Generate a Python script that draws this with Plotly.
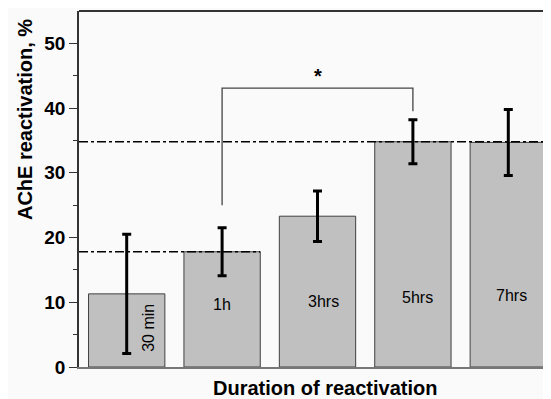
import plotly.graph_objects as go

# Data
durations = ["30 min", "1h", "3hrs", "5hrs", "7hrs"]
reactivation = [11.3, 17.8, 23.3, 34.8, 34.7]
errors = [9.2, 3.7, 3.9, 3.4, 5.1]

# bracket / significance (1h vs 5hrs)
bracket_low = [25.0, 39.5]
bracket_top = 43.1

x = list(range(len(durations)))

fig = go.Figure()

fig.add_trace(go.Bar(
    x=x, y=reactivation,
    marker=dict(color="#c0c0c0", line=dict(color="#404040", width=1)),
    error_y=dict(type="data", array=errors, color="black", thickness=3, width=4.5),
    showlegend=False, hoverinfo="skip"
))

# dash-dot reference lines at 1h and 5hrs levels
fig.add_trace(go.Scatter(
    x=[-0.5, 1.4], y=[reactivation[1]] * 2, mode="lines",
    line=dict(color="black", width=1.5, dash="dashdot"), showlegend=False
))
fig.add_trace(go.Scatter(
    x=[-0.5, 4.6], y=[reactivation[3]] * 2, mode="lines",
    line=dict(color="black", width=1.5, dash="dashdot"), showlegend=False
))

# significance bracket
fig.add_trace(go.Scatter(
    x=[1, 1, 3, 3], y=[bracket_low[0], bracket_top, bracket_top, bracket_low[1]],
    mode="lines", line=dict(color="#444444", width=1.3), showlegend=False
))
fig.add_annotation(x=2, y=44.9, text="<b>*</b>", showarrow=False,
                   font=dict(size=20, color="black"))

# labels inside bars
label_dx = [0.22, 0.0, 0.06, 0.05, 0.03]
label_y = [6.0, 9.7, 10.1, 10.7, 11.0]
for i, lab in enumerate(durations):
    fig.add_annotation(x=i + label_dx[i], y=label_y[i], text=lab, showarrow=False,
                       textangle=-90 if i == 0 else 0,
                       font=dict(size=16, color="black"))

# axis titles
fig.add_annotation(xref="paper", yref="paper", x=0.516, y=-0.059,
                   xanchor="center", yanchor="middle",
                   text="<b>Duration of reactivation</b>", showarrow=False,
                   font=dict(size=20, color="black"))
fig.add_annotation(xref="paper", yref="paper", x=-0.113, y=0.694,
                   xanchor="center", yanchor="middle",
                   text="<b>AChE reactivation, %</b>", showarrow=False, textangle=-90,
                   font=dict(size=20, color="black"))

# top frame line
fig.add_shape(type="line", xref="paper", yref="paper", x0=0, x1=1, y0=1, y1=1,
              line=dict(color="#333333", width=2))

fig.update_layout(
    width=560, height=399,
    margin=dict(l=71, r=12, t=3, b=40),
    paper_bgcolor="#fafafa", plot_bgcolor="#fafafa",
    font=dict(family="Arial, Liberation Sans, sans-serif", color="black"),
    bargap=0.2,
)
fig.update_xaxes(range=[-0.5, 4.5], showticklabels=False, ticks="",
                 showgrid=False, zeroline=False,
                 showline=True, linecolor="#777777", linewidth=2)
fig.update_yaxes(range=[0, 55], tickvals=[0, 10, 20, 30, 40, 50],
                 ticks="outside", ticklen=8, tickwidth=1.3, tickcolor="#333333",
                 minor=dict(tickvals=[5, 15, 25, 35, 45], ticks="outside",
                            ticklen=4, tickwidth=1.3, tickcolor="#333333"),
                 tickfont=dict(size=19, weight="bold", color="black"),
                 showgrid=False, zeroline=False,
                 showline=True, linecolor="#333333", linewidth=1.5)

fig.write_html("out.html")
